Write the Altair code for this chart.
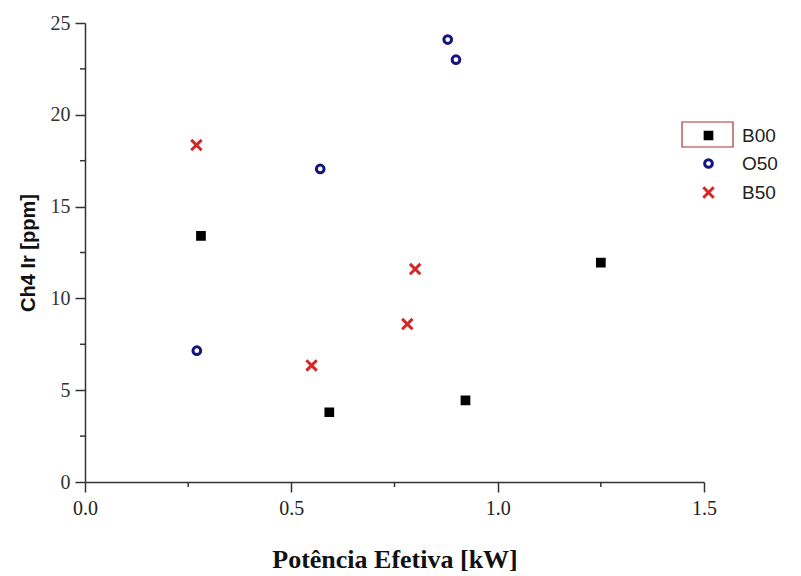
import altair as alt
import pandas as pd

# Series names and measured points (effective power in kW, CH4 in ppm)
series = ["B00", "O50", "B50"]
b00_x = [0.281, 0.592, 0.922, 1.250]
b00_y = [13.4, 3.8, 4.45, 11.95]
o50_x = [0.271, 0.570, 0.879, 0.899]
o50_y = [7.15, 17.05, 24.1, 23.0]
b50_x = [0.270, 0.549, 0.781, 0.800]
b50_y = [18.35, 6.35, 8.6, 11.6]

# Axis ticks (major labelled, minor unlabelled)
x_ticks = [0.0, 0.5, 1.0, 1.5]
y_ticks = [0, 5, 10, 15, 20, 25]
x_minor = [0.25, 0.75, 1.25]
y_minor = [2.5, 7.5, 12.5, 17.5, 22.5]

rows = []
for name, xs_, ys_ in [("B00", b00_x, b00_y), ("O50", o50_x, o50_y), ("B50", b50_x, b50_y)]:
    for xv, yv in zip(xs_, ys_):
        rows.append({"serie": name, "potencia": xv, "ch4": yv})
df = pd.DataFrame(rows)

W, H = 619, 459
AXIS_COLOR = "#333333"
# Symbol paths in unit coordinates (scaled by the mark size)
X_PATH = "M-1.55,-1.55L1.55,1.55M-1.55,1.55L1.55,-1.55"
RING_PATH = "M1.15,0A1.15,1.15 0 1,1 -1.15,0A1.15,1.15 0 1,1 1.15,0Z"

xscale = alt.Scale(domain=[0, 1.5], nice=False, zero=False)
yscale = alt.Scale(domain=[0, 25], nice=False)

x_axis = alt.Axis(
    values=x_ticks, format=".1f", title="Potência Efetiva [kW]", labelFlush=False,
    labelFont="Liberation Serif", labelFontSize=20, labelColor="#222222", labelPadding=6,
    titleFont="Liberation Serif", titleFontSize=26, titleFontWeight="bold",
    titleColor="#111111", titlePadding=28,
)
y_axis = alt.Axis(
    values=y_ticks, format="d", title="Ch4 Ir [ppm]", labelFlush=False,
    labelFont="Liberation Serif", labelFontSize=20, labelColor="#333333", labelPadding=5,
    titleFont="Liberation Sans", titleFontSize=20, titleFontWeight="bold",
    titleColor="#111111", titlePadding=12,
)

legend = alt.Legend(
    orient="none", legendX=614, legendY=103, padding=0,
    labelFont="Liberation Sans", labelFontSize=19, labelColor="#222222",
    labelOffset=24, rowPadding=7, symbolOpacity=1, symbolStrokeWidth=3, symbolSize=45,
)

points = alt.Chart(df).mark_point(opacity=1, strokeWidth=3, size=45).encode(
    x=alt.X("potencia:Q", scale=xscale, axis=x_axis),
    y=alt.Y("ch4:Q", scale=yscale, axis=y_axis),
    color=alt.Color("serie:N", title="", legend=legend,
                    scale=alt.Scale(domain=series, range=["#000000", "#15157d", "#d42828"])),
    shape=alt.Shape("serie:N", title="", legend=legend,
                    scale=alt.Scale(domain=series, range=["square", RING_PATH, X_PATH])),
    fill=alt.Fill("serie:N", title="", legend=legend,
                  scale=alt.Scale(domain=series, range=["#000000", "transparent", "transparent"])),
)

# Minor tick marks drawn on the scales
x_minor_ticks = alt.Chart(pd.DataFrame({"v": x_minor})).mark_rule(
    color=AXIS_COLOR, strokeWidth=1.5
).encode(x=alt.X("v:Q", scale=xscale), y=alt.value(H), y2=alt.value(H + 5))

y_minor_ticks = alt.Chart(pd.DataFrame({"v": y_minor})).mark_rule(
    color=AXIS_COLOR, strokeWidth=1.5
).encode(y=alt.Y("v:Q", scale=yscale), x=alt.value(-5), x2=alt.value(0))

# Highlight frame around the first legend entry
legend_box = alt.Chart(pd.DataFrame({"k": [0]})).mark_rect(
    fill="transparent", stroke="#b03030", strokeWidth=1.2
).encode(x=alt.value(597), x2=alt.value(648), y=alt.value(99), y2=alt.value(124))

chart = alt.layer(points, x_minor_ticks, y_minor_ticks, legend_box).properties(
    width=W, height=H,
    autosize=alt.AutoSizeParams(type="none"),
    padding={"left": 85, "top": 23, "right": 97, "bottom": 94},
    background="white",
).configure_view(strokeWidth=0).configure_axis(
    grid=False, domainColor=AXIS_COLOR, domainWidth=1.5,
    tickColor=AXIS_COLOR, tickWidth=1.5, tickSize=10,
)

chart.save("out.html", embed_options={"renderer": "svg", "actions": False})
